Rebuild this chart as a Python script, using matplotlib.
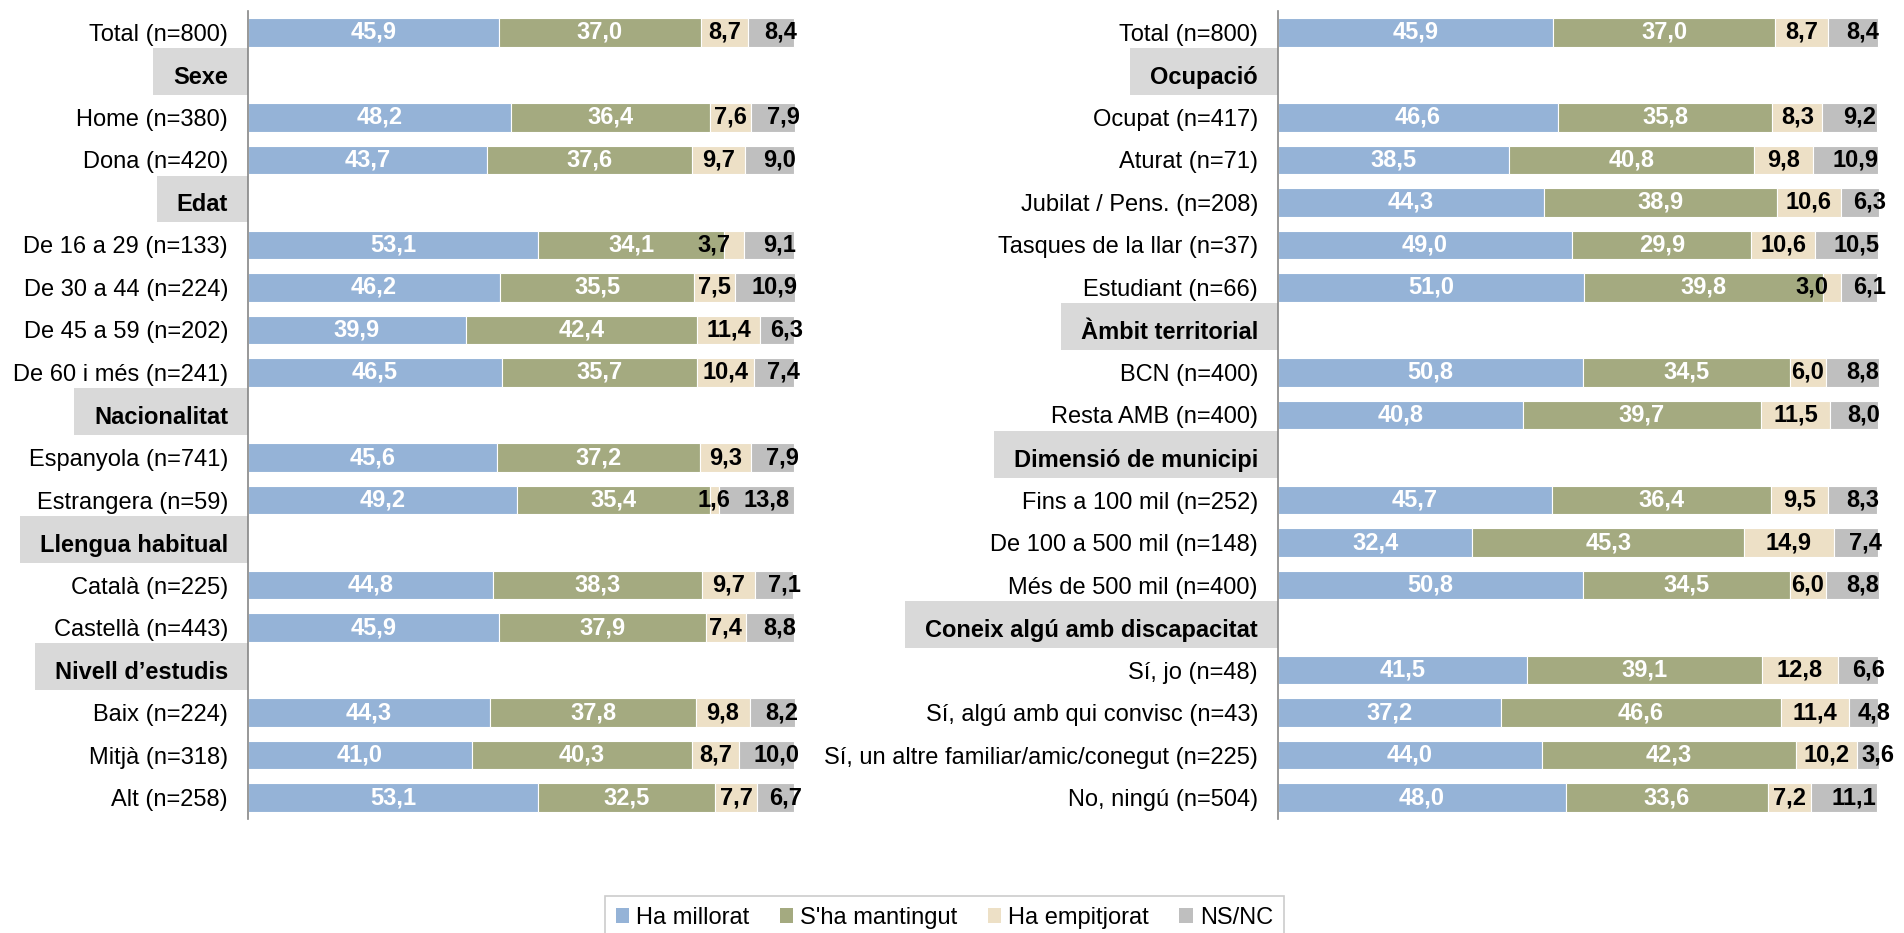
import numpy as np
import matplotlib
matplotlib.use("Agg")
import matplotlib.pyplot as plt
from matplotlib.patches import Rectangle, Patch
from matplotlib.transforms import blended_transform_factory, offset_copy

plt.rcParams["font.family"] = ["Liberation Sans", "DejaVu Sans"]

SERIES = ["Ha millorat", "S'ha mantingut", "Ha empitjorat", "NS/NC"]
COLORS = ["#95B3D7", "#A4AA80", "#EDE0C6", "#BFBFBF"]
TXT_COLORS = ["white", "white", "black", "black"]
NA = np.nan

# --- panell esquerre ---
left_rows = ["Total (n=800)", "Sexe", "Home (n=380)", "Dona (n=420)", "Edat",
             "De 16 a 29 (n=133)", "De 30 a 44 (n=224)", "De 45 a 59 (n=202)",
             "De 60 i més (n=241)", "Nacionalitat", "Espanyola (n=741)",
             "Estrangera (n=59)", "Llengua habitual", "Català (n=225)",
             "Castellà (n=443)", "Nivell d’estudis", "Baix (n=224)",
             "Mitjà (n=318)", "Alt (n=258)"]
left_headers = ["Sexe", "Edat", "Nacionalitat", "Llengua habitual", "Nivell d’estudis"]
left_millorat = [45.9, NA, 48.2, 43.7, NA, 53.1, 46.2, 39.9, 46.5, NA, 45.6, 49.2,
                 NA, 44.8, 45.9, NA, 44.3, 41.0, 53.1]
left_mantingut = [37.0, NA, 36.4, 37.6, NA, 34.1, 35.5, 42.4, 35.7, NA, 37.2, 35.4,
                  NA, 38.3, 37.9, NA, 37.8, 40.3, 32.5]
left_empitjorat = [8.7, NA, 7.6, 9.7, NA, 3.7, 7.5, 11.4, 10.4, NA, 9.3, 1.6,
                   NA, 9.7, 7.4, NA, 9.8, 8.7, 7.7]
left_nsnc = [8.4, NA, 7.9, 9.0, NA, 9.1, 10.9, 6.3, 7.4, NA, 7.9, 13.8,
             NA, 7.1, 8.8, NA, 8.2, 10.0, 6.7]

# --- panell dret ---
right_rows = ["Total (n=800)", "Ocupació", "Ocupat (n=417)", "Aturat (n=71)",
              "Jubilat / Pens. (n=208)", "Tasques de la llar (n=37)",
              "Estudiant (n=66)", "Àmbit territorial", "BCN (n=400)",
              "Resta AMB (n=400)", "Dimensió de municipi", "Fins a 100 mil (n=252)",
              "De 100 a 500 mil (n=148)", "Més de 500 mil (n=400)",
              "Coneix algú amb discapacitat", "Sí, jo (n=48)",
              "Sí, algú amb qui convisc (n=43)",
              "Sí, un altre familiar/amic/conegut (n=225)", "No, ningú (n=504)"]
right_headers = ["Ocupació", "Àmbit territorial", "Dimensió de municipi",
                 "Coneix algú amb discapacitat"]
right_millorat = [45.9, NA, 46.6, 38.5, 44.3, 49.0, 51.0, NA, 50.8, 40.8, NA,
                  45.7, 32.4, 50.8, NA, 41.5, 37.2, 44.0, 48.0]
right_mantingut = [37.0, NA, 35.8, 40.8, 38.9, 29.9, 39.8, NA, 34.5, 39.7, NA,
                   36.4, 45.3, 34.5, NA, 39.1, 46.6, 42.3, 33.6]
right_empitjorat = [8.7, NA, 8.3, 9.8, 10.6, 10.6, 3.0, NA, 6.0, 11.5, NA,
                    9.5, 14.9, 6.0, NA, 12.8, 11.4, 10.2, 7.2]
right_nsnc = [8.4, NA, 9.2, 10.9, 6.3, 10.5, 6.1, NA, 8.8, 8.0, NA,
              8.3, 7.4, 8.8, NA, 6.6, 4.8, 3.6, 11.1]

FS = 17
W, H = 1904, 933
fig = plt.figure(figsize=(W / 100, H / 100), dpi=100)
ax_l = fig.add_axes([248 / W, 114 / H, 546 / W, 808 / H])
ax_r = fig.add_axes([1278 / W, 114 / H, 600 / W, 808 / H])


def fmt(v):
    return f"{v:.1f}".replace(".", ",")


def panel(ax, rows, headers, series):
    y = np.arange(len(rows))
    left = np.zeros(len(rows))
    for k, vals in enumerate(series):
        vals = np.asarray(vals, dtype=float)
        w = np.nan_to_num(vals)
        ax.barh(y, w, left=left, height=0.67, color=COLORS[k],
                edgecolor="white", linewidth=0.8, clip_on=False)
        for i in y:
            if np.isnan(vals[i]):
                continue
            dx = 0
            if k == 3:
                dx = 10          # etiquetes NS/NC una mica desplaçades
            elif k == 2 and 2.5 <= vals[i] < 4:
                dx = -20         # evitar xocar amb l'etiqueta veïna
            tr = offset_copy(ax.transData, fig=fig, x=dx, y=0, units="dots")
            ax.text(left[i] + w[i] / 2, i, fmt(vals[i]), transform=tr,
                    ha="center", va="center", fontsize=FS, fontweight="bold",
                    color=TXT_COLORS[k])
        left += w

    ax.set_xlim(0, 100)
    ax.set_ylim(len(rows) - 0.5, -0.5)
    ax.set_yticks(y)
    ax.set_yticklabels(rows, fontsize=FS)
    for lab in ax.get_yticklabels():
        if lab.get_text() in headers:
            lab.set_fontweight("bold")
    ax.tick_params(axis="y", length=0, pad=14.4)
    ax.set_xticks([])
    for s in ["top", "right", "bottom"]:
        ax.spines[s].set_visible(False)
    ax.spines["left"].set_color("#868686")
    ax.spines["left"].set_linewidth(1.2)
    ax.spines["left"].set_zorder(3)
    ax.set_facecolor("none")


panel(ax_l, left_rows, left_headers,
      [left_millorat, left_mantingut, left_empitjorat, left_nsnc])
panel(ax_r, right_rows, right_headers,
      [right_millorat, right_mantingut, right_empitjorat, right_nsnc])

# caixes grises darrere dels titols de bloc
fig.canvas.draw()
renderer = fig.canvas.get_renderer()
for ax, rows, headers in [(ax_l, left_rows, left_headers),
                          (ax_r, right_rows, right_headers)]:
    trans = blended_transform_factory(ax.transAxes, ax.transData)
    for lab in ax.get_yticklabels():
        if lab.get_text() not in headers:
            continue
        bb = lab.get_window_extent(renderer)
        xa = ax.transAxes.inverted().transform((bb.x0 - 20, 0))[0]
        row = rows.index(lab.get_text())
        ax.add_patch(Rectangle((xa, row - 0.63), -xa, 1.1, transform=trans,
                               facecolor="#D9D9D9", edgecolor="none",
                               clip_on=False, zorder=0.5))

handles = [Patch(facecolor=c, edgecolor="none") for c in COLORS]
leg = fig.legend(handles, SERIES, loc="upper center",
                 bbox_to_anchor=(0.496, 1 - 896 / H), ncol=4, fontsize=FS,
                 frameon=True, fancybox=False, edgecolor="#BFBFBF",
                 handlelength=0.58, handleheight=0.58, handletextpad=0.3,
                 columnspacing=1.27, borderpad=0.45, borderaxespad=0)
leg.get_frame().set_linewidth(1.2)

fig.savefig("out.png", dpi=100)
